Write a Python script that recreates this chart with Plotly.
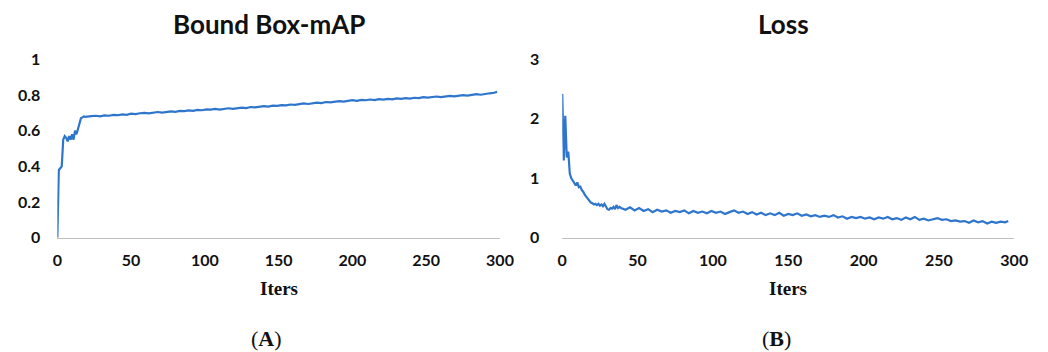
import plotly.graph_objects as go

# ---- data ----
map_iters = [0, 1, 2, 3, 4, 5, 6, 7, 8, 9, 10, 11, 12, 13, 14, 15, 16, 17, 18, 19, 20,
             23, 26, 29, 32, 35, 38, 41, 44, 47, 50, 53, 56, 59, 62, 65, 68, 71, 74, 77, 80,
             83, 86, 89, 92, 95, 98, 101, 104, 107, 110, 113, 116, 119, 122, 125, 128, 131,
             134, 137, 140, 143, 146, 149, 152, 155, 158, 161, 164, 167, 170, 173, 176, 179,
             182, 185, 188, 191, 194, 197, 200, 203, 206, 209, 212, 215, 218, 221, 224, 227,
             230, 233, 236, 239, 242, 245, 248, 251, 254, 257, 260, 263, 266, 269, 272, 275,
             278, 281, 284, 287, 290, 293, 296, 298]
map_values = [0.0, 0.38, 0.39, 0.40, 0.55, 0.57, 0.56, 0.54, 0.57, 0.55, 0.58, 0.55, 0.60, 0.58,
              0.61, 0.64, 0.67, 0.675, 0.68, 0.678, 0.68,
              0.682, 0.684, 0.681, 0.686, 0.684, 0.689, 0.687, 0.692, 0.689, 0.696, 0.693, 0.698,
              0.700, 0.697, 0.703, 0.705, 0.702, 0.707, 0.709, 0.706, 0.711, 0.710, 0.714, 0.712,
              0.717, 0.715, 0.720, 0.718, 0.722, 0.719, 0.724, 0.726, 0.723, 0.728, 0.730, 0.727,
              0.733, 0.731, 0.736, 0.738, 0.735, 0.741, 0.739, 0.744, 0.742, 0.747, 0.745, 0.750,
              0.753, 0.750, 0.756, 0.758, 0.755, 0.761, 0.759, 0.764, 0.766, 0.763, 0.769, 0.772,
              0.768, 0.773, 0.771, 0.775, 0.772, 0.777, 0.775, 0.779, 0.776, 0.781, 0.779, 0.783,
              0.780, 0.785, 0.783, 0.788, 0.786, 0.790, 0.792, 0.789, 0.794, 0.796, 0.793, 0.798,
              0.800, 0.797, 0.803, 0.805, 0.802, 0.808, 0.810, 0.813, 0.818]

loss_iters = [0, 1, 2, 3, 4, 5, 6, 7, 8, 9, 10, 11, 12, 13, 14, 15, 16, 17, 18, 19, 20,
              21, 22, 23, 24, 25, 26, 27, 28, 29, 30, 31, 32, 33, 34, 35, 36, 37, 38,
              39, 42, 45, 48, 51, 54, 57, 60, 63, 66, 69, 72, 75, 78, 81, 84, 87, 90, 93, 96,
              99, 102, 105, 108, 111, 114, 117, 120, 123, 126, 129, 132, 135, 138, 141, 144,
              147, 150, 153, 156, 159, 162, 165, 168, 171, 174, 177, 180, 183, 186, 189, 192,
              195, 198, 201, 204, 207, 210, 213, 216, 219, 222, 225, 228, 231, 234, 237, 240,
              243, 246, 249, 252, 255, 258, 261, 264, 267, 270, 273, 276, 279, 282, 285, 288,
              291, 294, 296]
loss_values = [2.42, 1.30, 2.05, 1.35, 1.45, 1.08, 1.00, 0.95, 0.92, 0.88, 0.93, 0.85, 0.86,
               0.80, 0.77, 0.72, 0.69, 0.65, 0.62, 0.59, 0.58, 0.56, 0.57, 0.55, 0.57, 0.54,
               0.56, 0.53, 0.57, 0.52, 0.48, 0.47, 0.50, 0.49, 0.52, 0.48, 0.55, 0.50, 0.52,
               0.50, 0.47, 0.51, 0.46, 0.50, 0.45, 0.48, 0.43, 0.47, 0.44, 0.46, 0.42, 0.45,
               0.43, 0.46, 0.41, 0.45, 0.42, 0.44, 0.41, 0.45, 0.42, 0.44, 0.40, 0.43, 0.46,
               0.42, 0.44, 0.40, 0.43, 0.39, 0.42, 0.38, 0.41, 0.38, 0.42, 0.37, 0.40, 0.38,
               0.41, 0.37, 0.39, 0.36, 0.38, 0.35, 0.37, 0.35, 0.38, 0.34, 0.36, 0.32, 0.35,
               0.33, 0.35, 0.32, 0.34, 0.31, 0.34, 0.32, 0.35, 0.31, 0.33, 0.30, 0.34, 0.31,
               0.35, 0.30, 0.32, 0.29, 0.31, 0.33, 0.30, 0.31, 0.28, 0.29, 0.27, 0.28, 0.25,
               0.29, 0.26, 0.28, 0.24, 0.27, 0.25, 0.27, 0.26, 0.28]

x_ticks = [0, 50, 100, 150, 200, 250, 300]
map_ticks = [0, 0.2, 0.4, 0.6, 0.8, 1]
map_tick_text = ["0", "0.2", "0.4", "0.6", "0.8", "1"]
loss_ticks = [0, 1, 2, 3]

titles = ["Bound Box-mAP", "Loss"]
x_title = "Iters"
panel_labels = ["(<b>A</b>)", "(<b>B</b>)"]

LINE = "#2E75CC"
AXIS = "#BFBFBF"
TICKFONT = dict(family="Lato, Open Sans, sans-serif", size=16, color="#111111", weight="bold")

fig = go.Figure()
fig.add_trace(go.Scatter(x=map_iters, y=map_values, mode="lines",
                         line=dict(color=LINE, width=2.2), xaxis="x", yaxis="y",
                         showlegend=False))
fig.add_trace(go.Scatter(x=loss_iters, y=loss_values, mode="lines",
                         line=dict(color=LINE, width=2.2), xaxis="x2", yaxis="y2",
                         showlegend=False))

ydom = [0.3247, 0.8312]
common_x = dict(range=[0, 300], tickvals=x_ticks, showgrid=False, zeroline=False,
                showline=True, linecolor=AXIS, linewidth=1, ticks="", automargin=False,
                tickfont=TICKFONT, ticklabelstandoff=8)
common_y = dict(showgrid=False, zeroline=False, showline=False, ticks="", automargin=False,
                tickfont=TICKFONT, domain=ydom)

fig.update_layout(
    width=1048, height=352,
    margin=dict(l=0, r=0, t=0, b=0),
    paper_bgcolor="white", plot_bgcolor="white",
    xaxis=dict(domain=[0.0547, 0.4771], anchor="y", **common_x),
    yaxis=dict(range=[0, 1], tickvals=map_ticks, ticktext=map_tick_text, anchor="x",
               ticklabelstandoff=16, **common_y),
    xaxis2=dict(domain=[0.5365, 0.9678], anchor="y2", **common_x),
    yaxis2=dict(range=[0, 3], tickvals=loss_ticks, anchor="x2",
                ticklabelstandoff=22, **common_y),
)

title_font = dict(family="Lato, Open Sans, sans-serif", size=26, color="#111111", weight="bold")
serif_bold = dict(family="Liberation Serif, Times New Roman, serif", size=19, color="#111111",
                  weight="bold")
serif = dict(family="Liberation Serif, Times New Roman, serif", size=22, color="#111111")

centers = [(0.0547 + 0.4771) / 2, (0.5365 + 0.9678) / 2]
title_shift = [-10 / 1048, -5 / 1048]
for i, c in enumerate(centers):
    fig.add_annotation(text=f"<b>{titles[i]}</b>", x=c + title_shift[i], y=1 - 24 / 352,
                       xref="paper", yref="paper",
                       showarrow=False, font=title_font, xanchor="center", yanchor="middle")
    fig.add_annotation(text=f"<b>{x_title}</b>", x=c, y=1 - 288 / 352, xref="paper",
                       yref="paper", showarrow=False, font=serif_bold,
                       xanchor="center", yanchor="middle")
    fig.add_annotation(text=panel_labels[i], x=c - 12 / 1048, y=1 - 338 / 352, xref="paper",
                       yref="paper", showarrow=False, font=serif,
                       xanchor="center", yanchor="middle")

fig.write_html("out.html", config={"displayModeBar": False},
               post_script="document.body.style.margin='0';document.body.style.overflow='hidden';")
